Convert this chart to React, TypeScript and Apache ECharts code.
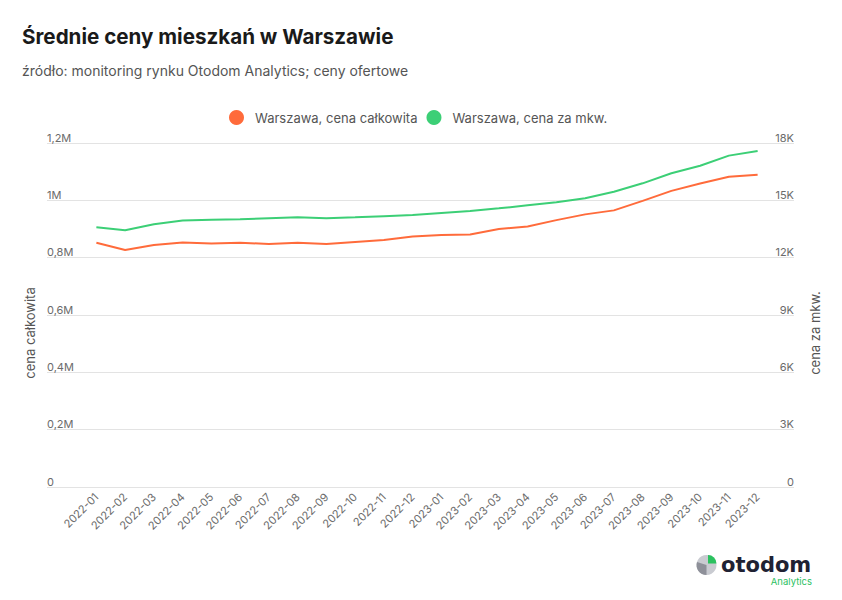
import React, { useEffect, useRef } from "react";
import * as echarts from "echarts";

const months = [
  "2022-01", "2022-02", "2022-03", "2022-04", "2022-05", "2022-06",
  "2022-07", "2022-08", "2022-09", "2022-10", "2022-11", "2022-12",
  "2023-01", "2023-02", "2023-03", "2023-04", "2023-05", "2023-06",
  "2023-07", "2023-08", "2023-09", "2023-10", "2023-11", "2023-12",
];

// Warszawa, cena całkowita (PLN)
const totalPrice = [
  852000, 827000, 844000, 853000, 849000, 852000,
  848000, 852000, 848000, 855000, 862000, 874000,
  879000, 881000, 900000, 909000, 931000, 951000,
  965000, 998000, 1033000, 1059000, 1082000, 1089000,
];

// Warszawa, cena za mkw. (PLN)
const sqmPrice = [
  13590, 13430, 13750, 13940, 13990, 14010,
  14060, 14110, 14060, 14110, 14170, 14230,
  14340, 14440, 14580, 14740, 14900, 15110,
  15450, 15890, 16420, 16810, 17340, 17580,
];

const seriesNames = ["Warszawa, cena całkowita", "Warszawa, cena za mkw."];
const axisNames = ["cena całkowita", "cena za mkw."];
const leftAxisMax = 1200000;
const leftAxisStep = 200000;
const rightAxisMax = 18000;
const rightAxisStep = 3000;

const ORANGE = "#ff6b3b";
const GREEN = "#3ccf76";
const FONT = "Inter, 'Noto Sans', sans-serif";

const fmtLeft = (v: number) =>
  v === 0 ? "0" : String(Math.round(v / 100000) / 10).replace(".", ",") + "M";
const fmtRight = (v: number) => (v === 0 ? "0" : Math.round(v / 1000) + "K");

export default function App() {
  const ref = useRef<HTMLDivElement>(null);
  useEffect(() => {
    if (!ref.current) return;
    const chart = echarts.init(ref.current, undefined, { renderer: "svg" });
    const labelStyle = { color: "#6b6b6b", fontSize: 11, fontFamily: FONT };
    chart.setOption({
      animation: false,
      backgroundColor: "#ffffff",
      textStyle: { fontFamily: FONT },
      title: [
        {
          text: "Średnie ceny mieszkań w Warszawie",
          left: 22,
          top: 26,
          padding: 0,
          textStyle: { fontSize: 20.6, fontWeight: "bold", color: "#1a1a1a", fontFamily: FONT },
        },
        {
          text: "źródło: monitoring rynku Otodom Analytics; ceny ofertowe",
          left: 22,
          top: 63,
          padding: 0,
          textStyle: { fontSize: 14, fontWeight: "normal", color: "#555555", fontFamily: FONT },
        },
      ],
      legend: {
        top: 110,
        left: 229,
        padding: 0,
        icon: "circle",
        itemWidth: 15,
        itemHeight: 15,
        itemGap: 9,
        textStyle: { fontSize: 13, color: "#555555", fontFamily: FONT, padding: [0, 0, 0, 6] },
        data: seriesNames,
      },
      grid: [
        { left: 47, right: 48, top: 143, bottom: 113 },
        { left: 82, right: 70, top: 143, bottom: 113 },
      ],
      xAxis: [
        { gridIndex: 0, type: "value", show: false, min: 0, max: 1 },
        {
          gridIndex: 1,
          type: "category",
          data: months,
          boundaryGap: true,
          axisLine: { show: false },
          axisTick: { show: false },
          axisLabel: { ...labelStyle, rotate: 45, margin: 8, interval: 0 },
        },
      ],
      yAxis: [
        {
          gridIndex: 0,
          type: "value",
          position: "left",
          min: 0,
          max: leftAxisMax,
          interval: leftAxisStep,
          name: axisNames[0],
          nameLocation: "middle",
          nameRotate: 90,
          nameGap: 7,
          nameTextStyle: { fontSize: 13, color: "#555555", fontFamily: FONT, padding: [0, 36, 0, 0] },
          axisLine: { show: false },
          axisTick: { show: false },
          axisLabel: { ...labelStyle, inside: true, margin: 0, verticalAlign: "bottom", formatter: fmtLeft },
          splitLine: { show: true, lineStyle: { color: "#e3e3e3", width: 1 } },
        },
        {
          gridIndex: 0,
          type: "value",
          position: "right",
          min: 0,
          max: rightAxisMax,
          interval: rightAxisStep,
          name: axisNames[1],
          nameLocation: "middle",
          nameRotate: 90,
          nameGap: 14,
          nameTextStyle: { fontSize: 13, color: "#555555", fontFamily: FONT, padding: [0, 36, 0, 0] },
          axisLine: { show: false },
          axisTick: { show: false },
          axisLabel: { ...labelStyle, inside: true, margin: 0, verticalAlign: "bottom", formatter: fmtRight },
          splitLine: { show: false },
        },
        { gridIndex: 1, type: "value", min: 0, max: leftAxisMax, show: false, splitLine: { show: false } },
        { gridIndex: 1, type: "value", min: 0, max: rightAxisMax, show: false, splitLine: { show: false } },
      ],
      series: [
        {
          name: seriesNames[0],
          type: "line",
          xAxisIndex: 1,
          yAxisIndex: 2,
          data: totalPrice,
          showSymbol: false,
          symbol: "circle",
          color: ORANGE,
          lineStyle: { width: 2, color: ORANGE },
        },
        {
          name: seriesNames[1],
          type: "line",
          xAxisIndex: 1,
          yAxisIndex: 3,
          data: sqmPrice,
          showSymbol: false,
          symbol: "circle",
          color: GREEN,
          lineStyle: { width: 2, color: GREEN },
        },
      ],
      graphic: [
        { type: "circle", shape: { cx: 706.5, cy: 565, r: 10 }, style: { fill: "#c9cbd1" } },
        { type: "sector", shape: { cx: 706.5, cy: 565, r: 10, r0: 0, startAngle: Math.PI / 2, endAngle: Math.PI * 1.1 }, style: { fill: "#8e9099" } },
        { type: "sector", shape: { cx: 708, cy: 563.5, r: 8.5, r0: 0, startAngle: -Math.PI / 2, endAngle: 0 }, style: { fill: "#2bc15f" } },
        {
          type: "text",
          x: 721,
          y: 565,
          style: { text: "otodom", fontSize: 21, fontWeight: "bold", fill: "#1f2233", fontFamily: "'DejaVu Sans', sans-serif", lineHeight: 14, verticalAlign: "middle" },
        },
        {
          type: "text",
          x: 812,
          y: 576.5,
          style: { text: "Analytics", fontSize: 9.5, fill: "#2bc15f", fontFamily: FONT, align: "right", verticalAlign: "top", lineHeight: 10 },
        },
      ],
    });
    return () => chart.dispose();
  }, []);
  return (
    <div
      ref={ref}
      style={{ position: "fixed", left: 0, top: 0, width: 842, height: 600, background: "#fff" }}
    />
  );
}
